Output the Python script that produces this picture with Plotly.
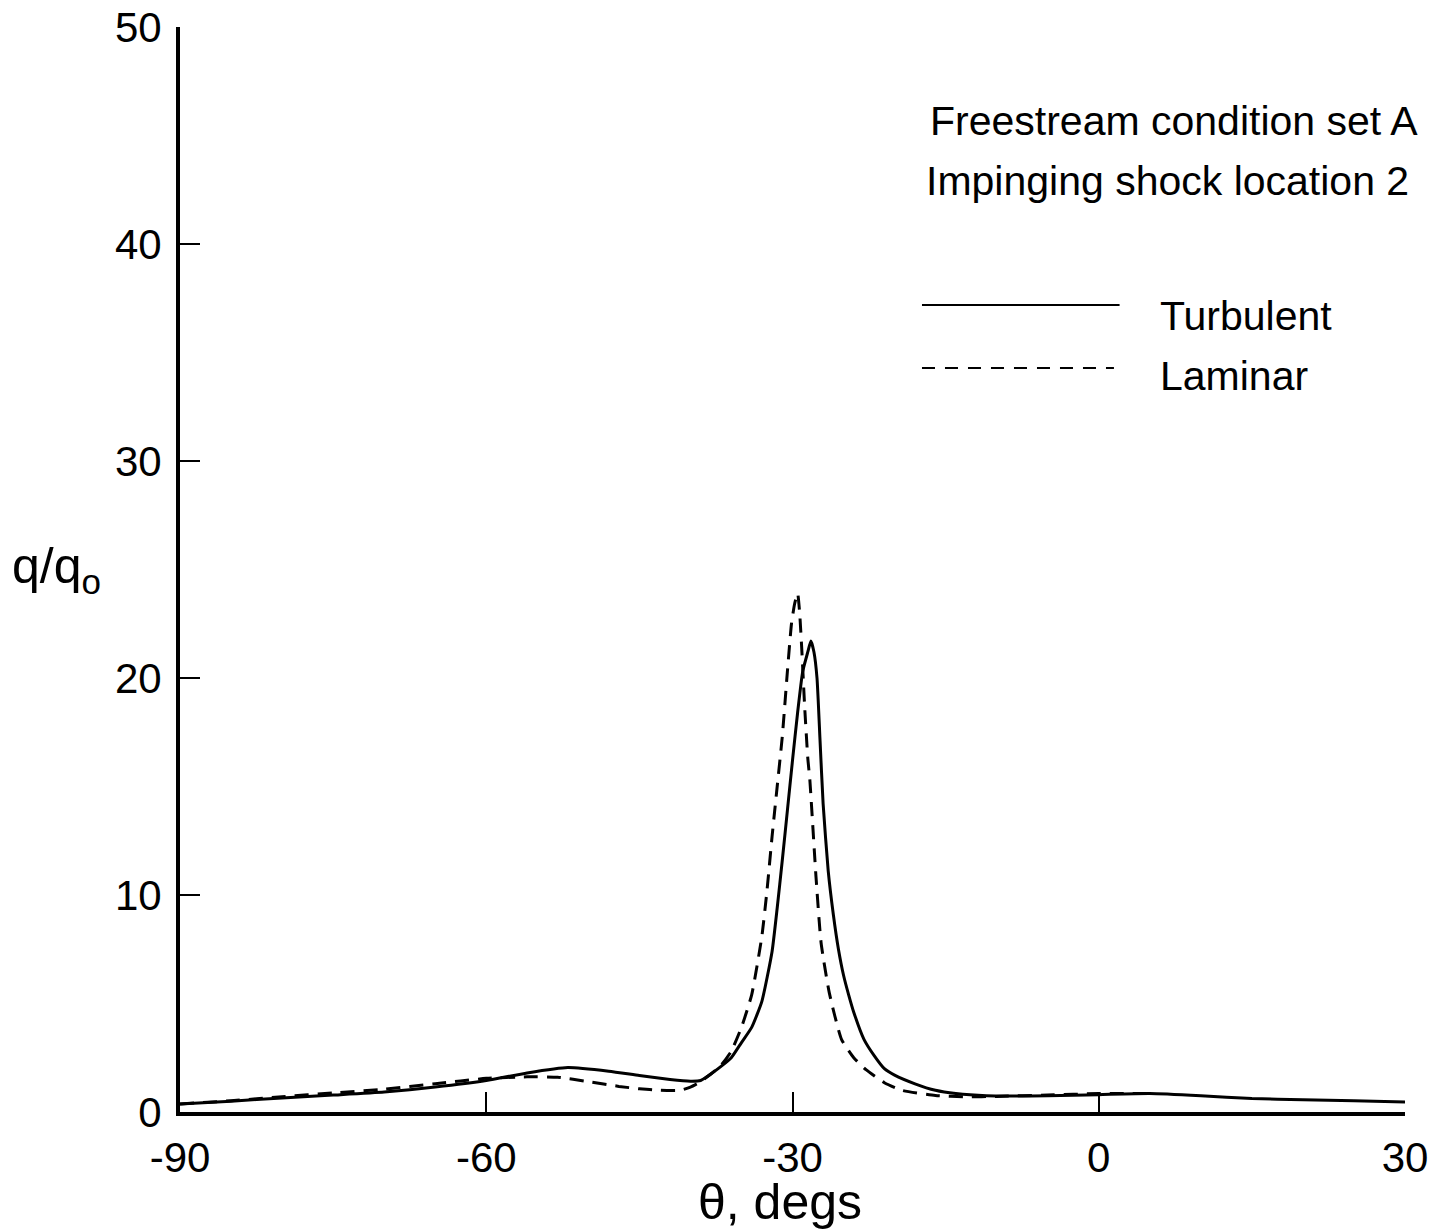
import plotly.graph_objects as go

# Turbulent series
turb_theta = [-90, -85, -80, -75, -70, -65, -60, -56, -52, -48, -45, -42, -40, -39,
              -38, -37, -36, -35, -34, -33, -32, -31.5, -31, -30.5, -30, -29.5, -29,
              -28.5, -28.2, -27.9, -27.6, -27.3, -27, -26.5, -26, -25.5, -25, -24.5,
              -24, -23, -22, -21, -20, -18, -16, -14, -11, -5, 0, 5, 10, 15, 20, 25, 30]
turb_q = [0.37, 0.5, 0.65, 0.78, 0.92, 1.15, 1.45, 1.8, 2.05, 1.88, 1.68, 1.5, 1.42, 1.45,
          1.75, 2.1, 2.5, 3.2, 3.9, 5.1, 7.4, 9.4, 11.6, 13.9, 16.2, 18.4, 20.3,
          21.2, 21.7, 21.2, 20.0, 17.1, 14.2, 11.1, 9.1, 7.5, 6.3, 5.4,
          4.6, 3.35, 2.6, 2.0, 1.7, 1.3, 1.0, 0.85, 0.75, 0.75, 0.8, 0.85, 0.75, 0.62, 0.56, 0.52, 0.46]

# Laminar series
lam_theta = [-90, -85, -80, -75, -70, -65, -60, -56, -53, -50, -47, -45, -43, -41, -40, -39,
             -38, -37, -36, -35, -34, -33, -32.5, -32, -31.5, -31, -30.5, -30.1, -29.8, -29.5,
             -29.3, -29.1, -28.8, -28.5, -28.3, -27.7, -27.2, -26.4, -25.2, -24, -22.8, -21,
             -19.3, -16, -13, -10, -5, 0, 5]
lam_q = [0.37, 0.52, 0.7, 0.88, 1.05, 1.3, 1.55, 1.62, 1.6, 1.4, 1.18, 1.07, 1.0, 1.0, 1.15, 1.4,
         1.75, 2.15, 2.8, 3.9, 5.4, 8.1, 10.2, 12.7, 15.0, 17.3, 20.3, 22.5, 23.4, 23.9,
         23.0, 21.4, 18.6, 16.3, 15.3, 10.85, 7.8, 5.5, 3.35, 2.5, 1.95, 1.35,
         1.0, 0.76, 0.7, 0.72, 0.78, 0.85, 0.85]

x_ticks = [-90, -60, -30, 0, 30]
y_ticks = [0, 10, 20, 30, 40, 50]

FONT = "Liberation Sans, Arial, Helvetica, sans-serif"

fig = go.Figure()
fig.add_trace(go.Scatter(x=turb_theta, y=turb_q, mode="lines", name="Turbulent",
                         line=dict(color="black", width=3, shape="spline", smoothing=0.5)))
fig.add_trace(go.Scatter(x=lam_theta, y=lam_q, mode="lines", name="Laminar",
                         line=dict(color="black", width=3, dash="14px,9px", shape="spline", smoothing=0.5)))

fig.update_layout(
    width=1430, height=1232,
    margin=dict(l=180, r=25, t=27, b=120),
    paper_bgcolor="white", plot_bgcolor="white",
    showlegend=False,
    font=dict(family=FONT, color="black", size=42),
)
fig.update_xaxes(range=[-90, 30], tickvals=x_ticks, ticktext=[str(v) for v in x_ticks],
                 ticks="inside", ticklen=20, tickwidth=2, tickcolor="black",
                 showline=True, linewidth=4, linecolor="black", showgrid=False, zeroline=False,
                 automargin=False, ticklabeloverflow="allow",
                 ticklabelstandoff=6, tickfont=dict(size=42, family=FONT))
fig.update_yaxes(range=[0, 50], tickvals=y_ticks, ticktext=[str(v) for v in y_ticks],
                 ticks="inside", ticklen=20, tickwidth=2, tickcolor="black",
                 showline=True, linewidth=4, linecolor="black", showgrid=False, zeroline=False,
                 automargin=False, ticklabeloverflow="allow",
                 ticklabelstandoff=6, tickfont=dict(size=42, family=FONT))

# Axis titles
fig.add_annotation(text="θ, degs", xref="paper", yref="paper", x=0.49, y=-0.111,
                   xanchor="center", yanchor="bottom", showarrow=False,
                   font=dict(size=50, family=FONT))
fig.add_annotation(text="q/q<sub>o</sub>", xref="paper", yref="paper", x=-0.1390, y=0.50,
                   xanchor="left", yanchor="middle", showarrow=False,
                   font=dict(size=50, family=FONT))

# Descriptive text
fig.add_annotation(text="Freestream condition set A", xref="paper", yref="paper",
                   x=0.6106, y=0.9134, xanchor="left", yanchor="middle", showarrow=False,
                   font=dict(size=41, family=FONT))
fig.add_annotation(text="Impinging shock location 2", xref="paper", yref="paper",
                   x=0.607, y=0.858, xanchor="left", yanchor="middle", showarrow=False,
                   font=dict(size=41, family=FONT))

# Legend (drawn manually)
fig.add_shape(type="line", xref="paper", yref="paper", x0=0.6057, x1=0.767, y0=0.7438, y1=0.7438,
              line=dict(color="black", width=2))
fig.add_shape(type="line", xref="paper", yref="paper", x0=0.6057, x1=0.7624, y0=0.6857, y1=0.6857,
              line=dict(color="black", width=2, dash="13px,10px"))
fig.add_annotation(text="Turbulent", xref="paper", yref="paper", x=0.798, y=0.7336,
                   xanchor="left", yanchor="middle", showarrow=False, font=dict(size=41, family=FONT))
fig.add_annotation(text="Laminar", xref="paper", yref="paper", x=0.798, y=0.678,
                   xanchor="left", yanchor="middle", showarrow=False, font=dict(size=41, family=FONT))

fig.write_html("out.html", config={"displayModeBar": False},
               post_script="document.body.style.margin='0px';document.body.style.overflow='hidden';")
